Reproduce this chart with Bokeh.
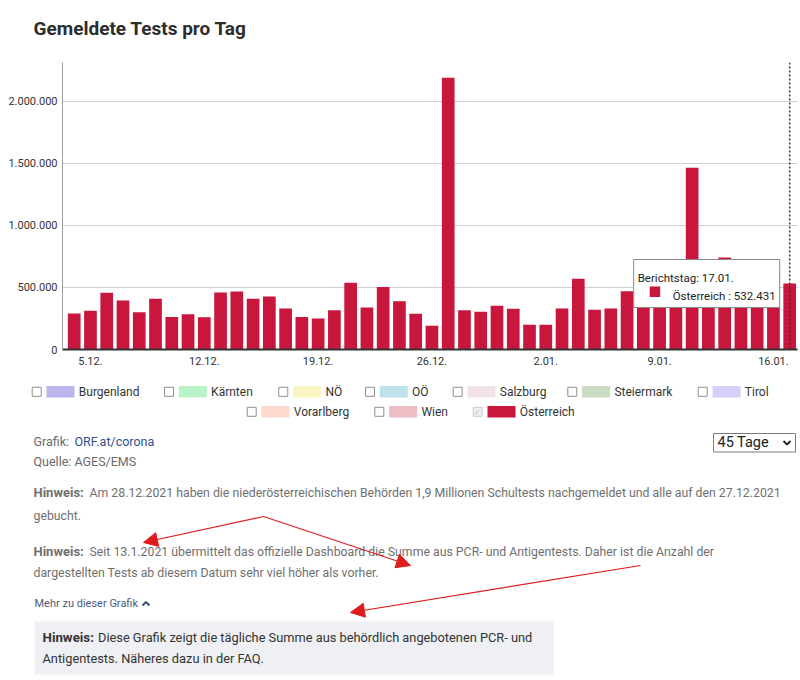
from bokeh.plotting import figure
from bokeh.models import (ColumnDataSource, Range1d, FixedTicker, BoxAnnotation, Span,
                          Label, Arrow, NormalHead)
from bokeh.layouts import column
from bokeh.embed import file_html
from bokeh.resources import INLINE

# ---------------- data ----------------
dates = ["4.12.", "5.12.", "6.12.", "7.12.", "8.12.", "9.12.", "10.12.", "11.12.", "12.12.", "13.12.",
         "14.12.", "15.12.", "16.12.", "17.12.", "18.12.", "19.12.", "20.12.", "21.12.", "22.12.", "23.12.",
         "24.12.", "25.12.", "26.12.", "27.12.", "28.12.", "29.12.", "30.12.", "31.12.", "1.01.", "2.01.",
         "3.01.", "4.01.", "5.01.", "6.01.", "7.01.", "8.01.", "9.01.", "10.01.", "11.01.", "12.01.",
         "13.01.", "14.01.", "15.01.", "16.01.", "17.01."]
tests = [290000, 312000, 457000, 395000, 301000, 409000, 263000, 285000, 261000, 460000,
         468000, 409000, 427000, 331000, 263000, 250000, 317000, 538000, 339000, 505000,
         390000, 288000, 191000, 2191000, 317000, 304000, 352000, 328000, 199000, 199000,
         331000, 570000, 320000, 331000, 470000, 480000, 420000, 450000, 1465000, 560000,
         742000, 690000, 650000, 610000, 532431]
xtick_idx = [1, 8, 15, 22, 29, 36, 43]
ytick_vals = [0, 500000, 1000000, 1500000, 2000000]
ytick_labels = ["0", "500.000", "1.000.000", "1.500.000", "2.000.000"]

legend_names = ["Burgenland", "Kärnten", "NÖ", "OÖ", "Salzburg", "Steiermark", "Tirol",
                "Vorarlberg", "Wien", "Österreich"]
legend_colors = ["#b8b6ea", "#b9f4c9", "#fbf5c4", "#bee2eb", "#f1e2e5", "#cadcc1", "#d5d0fa",
                 "#fcd9cf", "#ecbec3", "#c8163c"]
legend_checked = [False] * 9 + [True]

# ---------------- styles / layout ----------------
FONT = "Roboto"
RED = "#c8163c"
ARROW = "#e01b1b"
W = 800
TH = 56                  # title strip height
PH = 318                 # chart height
CH = 306                 # lower canvas height
OX, OY = 0, TH + PH      # page offset of the lower canvas

# ---------------- title ----------------
t = figure(width=W, height=TH, x_range=Range1d(0, W), y_range=Range1d(TH, 0),
           output_backend="svg", toolbar_location=None, x_axis_type=None, y_axis_type=None,
           min_border=0, frame_align=False)
t.outline_line_color = None
t.add_layout(Label(x=33, y=28, text="Gemeldete Tests pro Tag", text_font=FONT,
                   text_font_size="19px", text_font_style="bold", text_color="#2d2d2d",
                   text_baseline="alphabetic"))

# ---------------- chart ----------------
ymax = 2314500
x_lo, x_hi = -0.72, 44.48
p = figure(width=W, height=PH, x_range=Range1d(x_lo, x_hi), y_range=Range1d(0, ymax),
           output_backend="svg", toolbar_location=None, frame_align=False,
           min_border_left=62, min_border_right=3, min_border_top=6, min_border_bottom=25)
p.outline_line_color = None
src = ColumnDataSource(dict(x=list(range(len(dates))), top=tests, day=dates))
p.vbar(x="x", top="top", width=0.78, source=src, fill_color=RED, line_color=None)

p.xgrid.grid_line_color = None
p.ygrid.grid_line_color = "#cfcfcf"
p.ygrid.grid_line_width = 1.2
p.yaxis.ticker = FixedTicker(ticks=ytick_vals)
p.ygrid.ticker = FixedTicker(ticks=ytick_vals)
p.yaxis.major_label_overrides = {v: s for v, s in zip(ytick_vals, ytick_labels)}
p.xaxis.ticker = FixedTicker(ticks=xtick_idx)
p.xaxis.major_label_overrides = {i: dates[i] for i in xtick_idx}

for ax in (p.xaxis, p.yaxis):
    ax.major_tick_line_color = None
    ax.minor_tick_line_color = None
    ax.major_tick_in = 0
    ax.major_tick_out = 0
    ax.major_label_text_font = FONT
    ax.major_label_text_font_size = "11px"
    ax.major_label_text_color = "#333333"
p.xaxis.axis_line_color = "#333333"
p.xaxis.axis_line_width = 2
p.xaxis.major_label_standoff = 7
p.yaxis.axis_line_color = "#a0a0a0"
p.yaxis.axis_line_width = 1
p.yaxis.major_label_standoff = 5

# hover state for the last day
h = len(tests) - 1
upx = (W - 62 - 3) / (x_hi - x_lo)     # pixels per category unit
vpx = ymax / 287                      # value per pixel
p.add_layout(Span(location=h, dimension="height", line_color="#333333", line_width=1.5,
                  line_dash="2 2"))
tip_r = h - 10 / upx
tip_l = tip_r - 146 / upx
tip_t = 90 * vpx
tip_b = 42 * vpx
p.add_layout(BoxAnnotation(left=tip_l, right=tip_r, top=tip_t, bottom=tip_b,
                           fill_color="white", fill_alpha=1, line_color="#8a8a8a",
                           line_width=1, line_alpha=1))
p.add_layout(Label(x=tip_l + 4 / upx, y=72 * vpx, text="Berichtstag: " + dates[h],
                   text_font=FONT, text_font_size="11.5px", text_color="#222222",
                   text_baseline="alphabetic"))
p.add_layout(BoxAnnotation(left=tip_l + 16 / upx, right=tip_l + 26.5 / upx,
                           top=63 * vpx, bottom=52.5 * vpx, fill_color=RED, fill_alpha=1,
                           line_color=None))
val_txt = f"{tests[h]:,}".replace(",", ".")
p.add_layout(Label(x=tip_l + 39 / upx, y=53.5 * vpx, text="Österreich : " + val_txt,
                   text_font=FONT, text_font_size="11.5px", text_color="#222222",
                   text_baseline="alphabetic"))

# ---------------- lower canvas (legend, notes) ----------------
c = figure(width=W, height=CH, x_range=Range1d(0, W), y_range=Range1d(CH, 0),
           output_backend="svg", toolbar_location=None, x_axis_type=None, y_axis_type=None,
           min_border=0, frame_align=False)
c.outline_line_color = None


def lab(px, py, txt, size=12.0, color="#707070", bold=False, baseline="middle", align="left"):
    c.add_layout(Label(x=px - OX, y=py - OY, text=txt, text_font=FONT,
                       text_font_size=f"{size}px", text_color=color,
                       text_font_style="bold" if bold else "normal",
                       text_baseline=baseline, text_align=align))


# legend
legend_x = [31.7, 164, 278.3, 365, 452.7, 567.3, 697.7, 246.7, 374.3, 472.7]
legend_row = [0, 0, 0, 0, 0, 0, 0, 1, 1, 1]
row_y = [391.3, 411.3]
cb_l, cb_r, cb_t, cb_b, cb_fill, cb_line = [], [], [], [], [], []
sw_l, sw_r, sw_t, sw_b = [], [], [], []
for name, col, x0, r, chk in zip(legend_names, legend_colors, legend_x, legend_row, legend_checked):
    yc = row_y[r]
    cb_l.append(x0 - OX); cb_r.append(x0 + 9 - OX)
    cb_t.append(yc - 4.5 - OY); cb_b.append(yc + 4.5 - OY)
    cb_fill.append("#e4e4e4" if chk else "white")
    cb_line.append("#cccccc" if chk else "#8f8f8f")
    sw_l.append(x0 + 14.3 - OX); sw_r.append(x0 + 42.3 - OX)
    sw_t.append(yc - 5.8 - OY); sw_b.append(yc + 5.8 - OY)
    lab(x0 + 46.6, yc, name, size=12, color="#333333")
    if chk:
        lab(x0 + 4.5, yc + 0.5, "✓", size=8, color="#b5b5b5", align="center")
c.quad(left=sw_l, right=sw_r, top=sw_t, bottom=sw_b, fill_color=legend_colors, line_color=None)
c.quad(left=cb_l, right=cb_r, top=cb_t, bottom=cb_b, fill_color=cb_fill, line_color=cb_line,
       line_width=1, fill_alpha=[0.6 if f != "white" else 1 for f in cb_fill])

# source
lab(33, 441, "Grafik:", size=12.5, color="#6a6a6a")
lab(74, 441, "ORF.at/corona", size=12.5, color="#33508c")
lab(33, 461, "Quelle: AGES/EMS", size=12.5, color="#6a6a6a")

# select box
c.quad(left=[713 - OX], right=[795 - OX], top=[433 - OY], bottom=[451.5 - OY],
       fill_color="white", line_color="#7a7a7a", line_width=1)
lab(717, 442, "45 Tage", size=14.5, color="#222222")
c.line(x=[783 - OX, 786.5 - OX, 790 - OX], y=[440.5 - OY, 444 - OY, 440.5 - OY],
       line_color="#222222", line_width=1.8)

# notes
NOTE = "#6f6f6f"
lab(33, 492, "Hinweis:", size=13, color=NOTE, bold=True)
lab(89, 492, "Am 28.12.2021 haben die niederösterreichischen Behörden 1,9 Millionen "
             "Schultests nachgemeldet und alle auf den 27.12.2021", size=12.3, color=NOTE)
lab(33, 515, "gebucht.", size=12.3, color=NOTE)
lab(33, 551, "Hinweis:", size=13, color=NOTE, bold=True)
lab(89, 551, "Seit 13.1.2021 übermittelt das offizielle Dashboard die Summe aus PCR- und "
             "Antigentests. Daher ist die Anzahl der", size=12.3, color=NOTE)
lab(33, 572, "dargestellten Tests ab diesem Datum sehr viel höher als vorher.", size=12.3,
    color=NOTE)

lab(34, 603, "Mehr zu dieser Grafik", size=11, color="#4b5b7e")
c.line(x=[142 - OX, 145.5 - OX, 149 - OX], y=[605 - OY, 601.5 - OY, 605 - OY],
       line_color="#3f4f75", line_width=2)

# info box
c.quad(left=[34 - OX], right=[553 - OX], top=[621 - OY], bottom=[674 - OY], fill_color="#eef0f3",
       line_color=None)
lab(42, 637, "Hinweis:", size=13.3, color="#333333", bold=True)
lab(97.5, 637, "Diese Grafik zeigt die tägliche Summe aus behördlich angebotenen PCR- und",
    size=12.8, color="#333333")
lab(42, 658, "Antigentests. Näheres dazu in der FAQ.", size=12.8, color="#333333")

# red annotation arrows
for xs, ys, xe, ye in [(263, 516, 143, 542), (263, 516, 410, 565), (640, 565, 350, 612)]:
    c.add_layout(Arrow(end=NormalHead(size=14, fill_color=ARROW, line_color=ARROW),
                       x_start=xs - OX, y_start=ys - OY, x_end=xe - OX, y_end=ye - OY,
                       line_color=ARROW, line_width=1.2))

layout = column(t, p, c, spacing=0)
open("out.html", "w").write(file_html(layout, INLINE))
